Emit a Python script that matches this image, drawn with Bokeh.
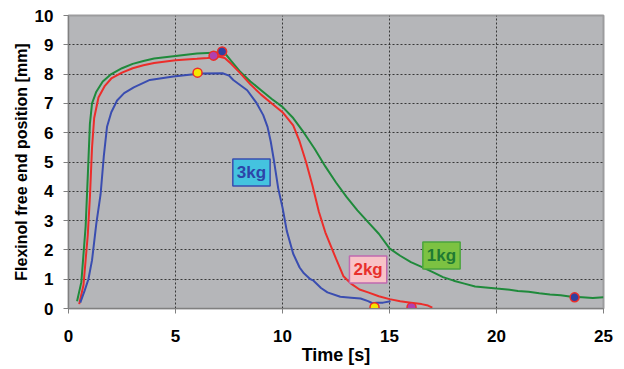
from bokeh.plotting import figure
from bokeh.models import Label, Range1d, FixedTicker
from bokeh.embed import file_html
from bokeh.resources import INLINE

# ---- data ----
t_1kg = [0.4, 0.6, 0.8, 0.9, 1.0, 1.1, 1.3, 1.6, 2.0, 2.5, 3.0, 3.5, 4.0, 5.0, 6.0, 6.5, 7.0, 7.3,
         7.6, 8.0, 8.5, 9.0, 9.5, 10.0, 10.5, 11.0, 11.5, 12.0, 12.5, 13.0, 13.5, 14.0, 14.5, 15.0,
         15.5, 16.0, 16.5, 17.0, 17.5, 18.0, 18.5, 19.0, 19.5, 20.0, 20.5, 21.0, 21.5, 22.0, 22.5,
         23.0, 23.5, 24.0, 24.5, 25.0]
v_1kg = [0.25, 0.9, 2.8, 4.5, 6.3, 7.0, 7.4, 7.75, 8.0, 8.2, 8.35, 8.45, 8.53, 8.62, 8.7, 8.72, 8.74, 8.72,
         8.45, 8.1, 7.75, 7.45, 7.15, 6.88, 6.5, 6.0, 5.45, 4.85, 4.3, 3.8, 3.35, 2.95, 2.55, 2.05,
         1.8, 1.58, 1.42, 1.25, 1.07, 0.95, 0.85, 0.75, 0.72, 0.68, 0.65, 0.6, 0.57, 0.52, 0.48,
         0.45, 0.4, 0.38, 0.36, 0.38]

t_2kg = [0.5, 0.7, 0.9, 1.0, 1.1, 1.2, 1.4, 1.7, 2.0, 2.5, 3.0, 3.5, 4.0, 5.0, 6.0, 6.5, 7.0, 7.3,
         7.6, 8.0, 8.5, 9.0, 9.5, 10.0, 10.5, 10.8, 11.1, 11.4, 11.7, 12.0, 12.5, 12.85, 13.2, 13.6,
         14.0, 14.5, 15.0, 15.5, 16.0, 16.5, 16.8, 17.0]
v_2kg = [0.15, 0.8, 2.5, 3.8, 5.5, 6.5, 7.2, 7.6, 7.85, 8.05, 8.2, 8.3, 8.38, 8.47, 8.52, 8.55, 8.6, 8.55,
         8.35, 8.05, 7.65, 7.3, 7.0, 6.7, 6.25, 5.7, 5.0, 4.2, 3.3, 2.6, 1.7, 1.1, 0.85, 0.65,
         0.55, 0.42, 0.32, 0.25, 0.2, 0.15, 0.1, 0.03]

t_3kg = [0.55, 0.75, 0.93, 1.1, 1.3, 1.5, 1.65, 1.8, 2.0, 2.27, 2.6, 3.05, 3.8, 4.9, 6.17, 7.2, 7.5,
         7.7, 8.35, 8.8, 9.1, 9.3, 9.45, 9.6, 9.8, 10.0, 10.2, 10.5, 10.8, 11.0, 11.3, 11.45, 11.8,
         12.1, 12.7, 13.2, 13.65, 14.0, 14.2, 14.4, 14.7, 15.05]
v_3kg = [0.2, 0.6, 1.0, 1.65, 2.9, 3.9, 5.2, 6.2, 6.7, 7.1, 7.35, 7.55, 7.8, 7.92, 8.02, 8.03, 7.95,
         7.8, 7.45, 7.0, 6.6, 6.2, 5.7, 5.05, 4.1, 3.45, 2.65, 1.87, 1.4, 1.2, 1.0, 0.95, 0.7,
         0.55, 0.4, 0.37, 0.34, 0.25, 0.18, 0.2, 0.2, 0.25]

mark_yellow_t = [6.03, 14.3]
mark_yellow_v = [8.05, 0.04]
mark_purple_t = [6.78, 16.03]
mark_purple_v = [8.63, 0.04]
mark_blue_t = [7.18, 23.65]
mark_blue_v = [8.77, 0.38]

x_ticks = [0, 5, 10, 15, 20, 25]
y_ticks = [0, 1, 2, 3, 4, 5, 6, 7, 8, 9, 10]

GREEN = "#1f8a3b"
RED = "#ec2d2a"
BLUE = "#3a4db0"
FONT = "Liberation Sans"

p = figure(width=620, height=367, output_backend="svg", toolbar_location=None,
           x_range=Range1d(0, 25), y_range=Range1d(0, 10),
           min_border_left=68, min_border_right=17, min_border_top=15, min_border_bottom=59)

p.background_fill_color = "#b5b6b9"
p.border_fill_color = "white"
p.outline_line_color = "#9c9c9e"
p.outline_line_width = 2

for ax in (p.xaxis[0], p.yaxis[0]):
    ax.axis_line_color = "#808080"
    ax.major_tick_line_color = "#808080"
    ax.major_tick_out = 5
    ax.major_tick_in = 0
    ax.minor_tick_line_color = None
    ax.major_label_text_font = FONT
    ax.major_label_text_font_style = "bold"
    ax.major_label_text_font_size = "17px"
    ax.major_label_text_color = "black"
    ax.axis_label_text_font = FONT
    ax.axis_label_text_font_style = "bold"
    ax.axis_label_text_color = "black"

p.xaxis.axis_label_text_font_size = "18px"
p.yaxis.axis_label_text_font_size = "16px"
p.xaxis.ticker = FixedTicker(ticks=x_ticks)
p.yaxis.ticker = FixedTicker(ticks=y_ticks)
p.xaxis.axis_label = "Time [s]"
p.yaxis.axis_label = "Flexinol free end position [mm]"
p.xaxis.major_label_standoff = 16
p.yaxis.major_label_standoff = 10
p.xaxis.axis_label_standoff = 0
p.yaxis.axis_label_standoff = 2

for g in (p.xgrid[0], p.ygrid[0]):
    g.grid_line_color = "#222222"
    g.grid_line_dash = "2 2"
    g.grid_line_width = 1
    g.grid_line_alpha = 0.85

p.line(t_1kg, v_1kg, line_color=GREEN, line_width=2)
p.line(t_2kg, v_2kg, line_color=RED, line_width=2)
p.line(t_3kg, v_3kg, line_color=BLUE, line_width=2)

p.scatter(mark_yellow_t, mark_yellow_v, size=9, fill_color="#f5e600", line_color=RED, line_width=1.5)
p.scatter(mark_purple_t, mark_purple_v, size=9, fill_color="#b040b0", line_color=RED, line_width=1.5)
p.scatter(mark_blue_t, mark_blue_v, size=9, fill_color="#3040a0", line_color=RED, line_width=1.5)

labels = [
    ("3kg", 8.55, 4.64, "#44c3df", "#3a4db0", "#2d45a8"),
    ("2kg", 14.0, 1.33, "#f8c3c7", "#c06ab0", "#e8302c"),
    ("1kg", 17.43, 1.81, "#7cc242", "#4aa43e", "#1f7a32"),
]
for txt, x, y, fill, border, col in labels:
    p.add_layout(Label(x=x, y=y, text=txt, text_align="center", text_baseline="middle",
                       text_font=FONT, text_font_style="bold", text_font_size="17px",
                       text_color=col, background_fill_color=fill, border_line_color=border,
                       border_line_width=1.5, padding=4))

open("out.html", "w").write(file_html(p, INLINE))
